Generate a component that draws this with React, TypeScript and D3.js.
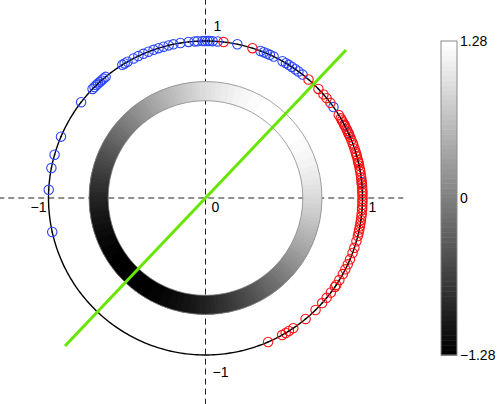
import { useEffect, useRef } from "react";
import * as d3 from "d3";

// angles (degrees, counter-clockwise from +x) of the points on the unit circle
const blueAngles = [
  192.5, 177, 169, 164, 157, 142.4, 136, 135, 134, 133.2, 132.3, 131.5, 130.5, 129.5,
  122, 121, 119.8, 117.3, 115.3, 113.3, 111.3, 109.3, 107.4, 105.5, 103.6, 101.8,
  99.2, 96.2, 94, 92.9, 91.1, 90.2, 89.3, 88.5, 87.4, 85.6, 78.3,
  69.5, 68.2, 67, 65.8, 64.3, 60.6, 59.2, 58, 56.6, 55.1, 53.7, 51.8,
  35.4, 27.7, 24.5, 5.8,
];
const redAngles = [
  83.4, 72.6, 49, 44, 41.3, 39.5, 37.3, 31.9,
  30.5, 29.6, 28.8, 27.9, 27.2, 26.1, 25.3, 24.2, 23.8, 22.9, 21.7, 20.4, 19.6, 18.3, 17.1, 16.2,
  15.4, 14.1, 13.3, 12.8, 11.9, 10.6, 9.8, 8.7, 7.5, 6.6, 5.5, 4.9, 3.8, 2.7, 1.9, 0.8, -0.4,
  -1.3, -2.5, -3.6, -4.4, -5.8, -6.9, -8.1, -9.2, -10.4, -11.6, -12.7,
  -14, -16, -18.5, -20.5, -23, -25, -27, -29, -31.5, -33.6, -34.5, -37, -39.5,
  -42, -45.5, -50.4, -56, -57.9, -59.3, -60.8, -66.5,
];

// direction of the green line (degrees) and its half length
const lineAngle = 46.5;
const lineHalfLength = 1.3;
// ring radii
const ringInner = 0.62;
const ringOuter = 0.742;
// colour range
const cMin = -1.28;
const cMax = 1.28;
const cbTicks = [-1.28, 0, 1.28];
const cbTickLabels = ["\u22121.28", "0", "1.28"];

// axis labels
const xLabelValues = [-1, 0, 1];
const xLabelTexts = ["\u22121", "0", "1"];
const yLabelValues = [1, -1];
const yLabelTexts = ["1", "\u22121"];

const W = 498;
const H = 404;
const rad = Math.PI / 180;

export default function App() {
  const svgRef = useRef<SVGSVGElement>(null);

  useEffect(() => {
    const svgEl = svgRef.current;
    if (!svgEl) return;
    const svg = d3.select(svgEl);
    svg.selectAll("*").remove();

    const cx = 205.5;
    const cy = 198;
    const R = 157;
    const x = d3.scaleLinear().domain([-1, 1]).range([cx - R, cx + R]);
    const y = d3.scaleLinear().domain([-1, 1]).range([cy + R, cy - R]);

    const grays = d3.range(64).map((i) => d3.rgb(i * 255 / 63, i * 255 / 63, i * 255 / 63).formatHex());
    const color = d3.scaleQuantize<string>().domain([cMin, cMax]).range(grays);

    // dashed axes
    svg.append("line")
      .attr("x1", x(-1.32)).attr("x2", x(1.26))
      .attr("y1", y(0)).attr("y2", y(0))
      .attr("stroke", "#222").attr("stroke-width", 1).attr("stroke-dasharray", "6,4");
    svg.append("line")
      .attr("x1", x(0)).attr("x2", x(0))
      .attr("y1", y(1.27)).attr("y2", y(-1.32))
      .attr("stroke", "#222").attr("stroke-width", 1).attr("stroke-dasharray", "6,4");

    // unit circle
    const circ = d3.range(0, 361, 1).map((a) => [Math.cos(a * rad), Math.sin(a * rad)] as [number, number]);
    svg.append("path")
      .datum(circ)
      .attr("fill", "none")
      .attr("stroke", "#000")
      .attr("stroke-width", 1.4)
      .attr("d", d3.line<[number, number]>().x((d) => x(d[0])).y((d) => y(d[1])));

    // shaded ring
    const pxPerUnit = x(1) - x(0);
    const arc = d3.arc<number>()
      .innerRadius(ringInner * pxPerUnit)
      .outerRadius(ringOuter * pxPerUnit)
      .startAngle((a) => (90 - a - 1.1) * rad)
      .endAngle((a) => (90 - a + 1.1) * rad);
    const ring = svg.append("g").attr("transform", `translate(${x(0)},${y(0)})`);
    ring.selectAll("path")
      .data(d3.range(0, 360, 1))
      .join("path")
      .attr("d", (a) => arc(a) as string)
      .attr("fill", (a) => color(cMax * Math.cos((a - lineAngle) * rad)));
    ring.append("circle").attr("r", ringInner * pxPerUnit).attr("fill", "none").attr("stroke", "#8a8a8a").attr("stroke-width", 0.8);
    ring.append("circle").attr("r", ringOuter * pxPerUnit).attr("fill", "none").attr("stroke", "#8a8a8a").attr("stroke-width", 0.8);

    // markers
    const drawMarkers = (angles: number[], stroke: string) => {
      const g = svg.append("g");
      g.selectAll("circle.m")
        .data(angles)
        .join("circle")
        .attr("class", "m")
        .attr("cx", (a) => x(Math.cos(a * rad)))
        .attr("cy", (a) => y(Math.sin(a * rad)))
        .attr("r", 4.7)
        .attr("fill", "none")
        .attr("stroke", stroke)
        .attr("stroke-width", 1.1);
      g.selectAll("circle.d")
        .data(angles)
        .join("circle")
        .attr("class", "d")
        .attr("cx", (a) => x(Math.cos(a * rad)))
        .attr("cy", (a) => y(Math.sin(a * rad)))
        .attr("r", 0.8)
        .attr("fill", "#000");
    };
    drawMarkers(blueAngles, "#2a44ff");
    drawMarkers(redAngles, "#ff1010");

    // green line
    const ux = Math.cos(lineAngle * rad);
    const uy = Math.sin(lineAngle * rad);
    svg.append("line")
      .attr("x1", x(-lineHalfLength * ux)).attr("y1", y(-lineHalfLength * uy))
      .attr("x2", x(lineHalfLength * ux)).attr("y2", y(lineHalfLength * uy))
      .attr("stroke", "#66e600").attr("stroke-width", 3);

    // axis labels
    const font = "'Liberation Sans', Arial, sans-serif";
    svg.append("g").selectAll("text")
      .data(xLabelValues)
      .join("text")
      .attr("x", (v) => x(v) + (v < 0 ? -10 : 10))
      .attr("y", y(0) + 14)
      .attr("text-anchor", "middle")
      .attr("font-family", font).attr("font-size", 14).attr("fill", "#000")
      .text((v, i) => xLabelTexts[i]);
    svg.append("g").selectAll("text")
      .data(yLabelValues)
      .join("text")
      .attr("x", (v) => x(0) + (v > 0 ? 12 : 15))
      .attr("y", (v) => y(v) + (v > 0 ? -10 : 22))
      .attr("text-anchor", "middle")
      .attr("font-family", font).attr("font-size", 14).attr("fill", "#000")
      .text((v, i) => yLabelTexts[i]);

    // colorbar
    const cb = d3.scaleLinear().domain([cMin, cMax]).range([355, 41]);
    const cbX = 441;
    const cbW = 16;
    const step = (cMax - cMin) / 64;
    svg.append("g").selectAll("rect")
      .data(d3.range(64))
      .join("rect")
      .attr("x", cbX)
      .attr("width", cbW)
      .attr("y", (i) => cb(cMin + (i + 1) * step))
      .attr("height", (i) => cb(cMin + i * step) - cb(cMin + (i + 1) * step) + 0.5)
      .attr("fill", (i) => grays[i]);
    svg.append("rect")
      .attr("x", cbX).attr("y", cb(cMax)).attr("width", cbW).attr("height", cb(cMin) - cb(cMax))
      .attr("fill", "none").attr("stroke", "#8a8a8a").attr("stroke-width", 1);
    svg.append("g").selectAll("text")
      .data(cbTicks)
      .join("text")
      .attr("x", cbX + cbW + 3)
      .attr("y", (v) => cb(v) + 5)
      .attr("font-family", font).attr("font-size", 14).attr("fill", "#000")
      .text((v, i) => cbTickLabels[i]);
  }, []);

  return (
    <svg
      ref={svgRef}
      width={W}
      height={H}
      style={{ position: "fixed", left: 0, top: 0, background: "#fff" }}
    />
  );
}
